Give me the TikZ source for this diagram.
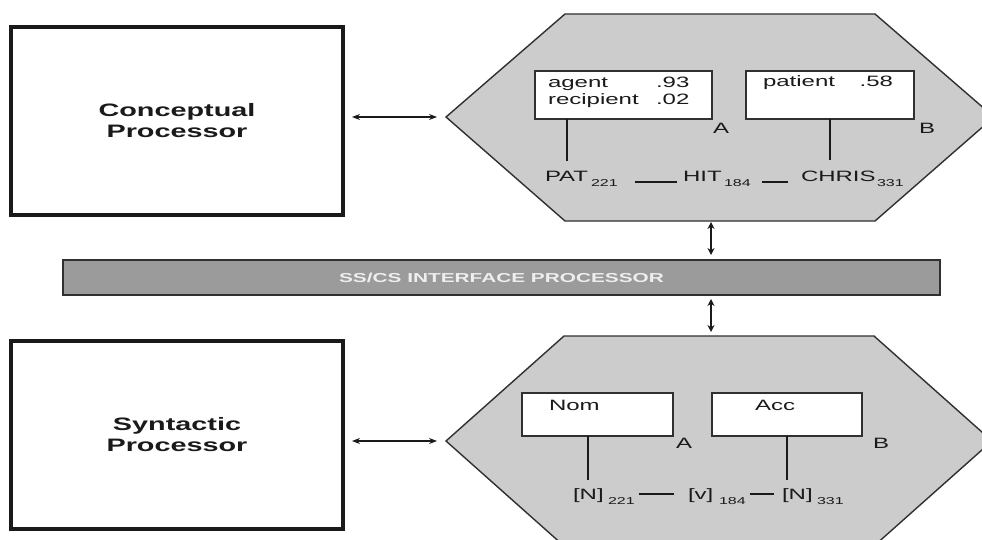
\documentclass[tikz,border=0pt]{standalone}
\usepackage{fontspec}
\usetikzlibrary{arrows.meta}
\newfontfamily\hv[FakeStretch=1.6]{Liberation Sans}
\definecolor{hexfill}{HTML}{CCCCCC}
\definecolor{barfill}{HTML}{9B9B9B}
\definecolor{ink}{HTML}{1A1A1A}
\definecolor{edge}{HTML}{303030}
\definecolor{bartext}{HTML}{EEEEEE}
\begin{document}
\begin{tikzpicture}[x=1pt,y=-1pt,
  every node/.style={inner sep=0pt, outer sep=0pt, text=ink, font=\hv\fontsize{15}{17}\selectfont},
  bigbox/.style={draw=ink, line width=3.5pt, fill=white, minimum width=332pt, minimum height=188pt,
    align=center, font=\hv\bfseries\fontsize{18}{21}\selectfont},
  hexshape/.style={fill=hexfill, draw=edge, line width=1.4pt},
  smallbox/.style={draw=edge, fill=white, line width=1.6pt},
  subtext/.style={anchor=base west, font=\hv\fontsize{10}{12}\selectfont},
  word/.style={anchor=base west},
  stem/.style={draw=ink, line width=1.9pt},
  dashline/.style={draw=ink, line width=1.4pt},
  harr/.style={draw=ink, line width=1.1pt, {Stealth[length=8pt,width=6pt]}-{Stealth[length=8pt,width=6pt]}},
  varr/.style={draw=ink, line width=1.8pt, {Stealth[length=7pt,width=7pt]}-{Stealth[length=7pt,width=7pt]}},
  barbox/.style={fill=barfill, draw=edge, line width=1.6pt, minimum width=877pt, minimum height=35pt,
    text=bartext, font=\hv\bfseries\fontsize{13}{15}\selectfont}
]
\useasboundingbox (0,0) rectangle (982,540);
\clip (0,0) rectangle (982,540);
\fill[white] (0,0) rectangle (982,540);

% left processors
\node[bigbox] (CP) at (177,121) {Conceptual\\Processor};
\node[bigbox] (SP) at (177,435) {Syntactic\\Processor};

% top hexagon
\draw[hexshape] (565,14) -- (875,14) -- (994,117) -- (875,221) -- (565,221) -- (446,117) coordinate (hexTL) -- cycle;
\coordinate (hexTbot) at (711,221);

% bottom hexagon
\draw[hexshape] (564,336) -- (874,336) -- (992,441) -- (874,546) -- (564,546) -- (446,441) coordinate (hexBL) -- cycle;
\coordinate (hexBtop) at (711,336);

% interface bar
\node[barbox] (bar) at (501.5,277.5) {SS/CS INTERFACE PROCESSOR};

% top boxes
\node[smallbox, minimum width=177pt, minimum height=48pt] (bA) at (623.5,95) {};
\node[smallbox, minimum width=168pt, minimum height=48pt] (bB) at (830,95) {};
\node[word] (ag) at (548,88) {agent};
\node[word] (ag93) at (656,88) {.93};
\node[word] (rc) at (548,105) {recipient};
\node[word] (rc02) at (656,105) {.02};
\node[word] (pt) at (763,87) {patient};
\node[anchor=base east] (pt58) at (893,87) {.58};
\node (lA) at (721,128) {A};
\node (lB) at (927,128) {B};

% top row
\node[word] (PAT) at (545,182) {PAT};
\node[subtext] (PATs) at (591,186) {221};
\node[word] (HIT) at (683,182) {HIT};
\node[subtext] (HITs) at (724,186) {184};
\node[word] (CHRIS) at (801,182) {CHRIS};
\node[subtext] (CHRISs) at (877,186) {331};

\draw[stem] ([yshift=11pt]PAT.north) -- (bA.south -| PAT.north);
\draw[stem] (bB.south) -- ([yshift=12pt]bB.south |- CHRIS.north);
\draw[dashline, shorten <=17pt, shorten >=6pt] ([yshift=4pt]PATs.base east) -- (HIT.base west);
\draw[dashline, shorten <=11pt, shorten >=13pt] ([yshift=4pt]HITs.base east) -- (CHRIS.base west);

% bottom boxes
\node[smallbox, minimum width=151pt, minimum height=43pt] (bN) at (597.5,414.5) {};
\node[smallbox, minimum width=150pt, minimum height=43pt] (bC) at (787,414.5) {};
\node[word] (nom) at (549,410) {Nom};
\node[word] (acc) at (755,410) {Acc};
\node (lA2) at (684,443) {A};
\node (lB2) at (881,443) {B};

% bottom row
\node[word] (N1) at (573,499) {[N]};
\node[subtext] (N1s) at (608,504) {221};
\node[word] (V) at (688,499) {[v]};
\node[subtext] (Vs) at (719,504) {184};
\node[word] (N2) at (782,499) {[N]};
\node[subtext] (N2s) at (817,504) {331};

\draw[stem] (bN.south -| N1.north) -- ([yshift=8pt]N1.north);
\draw[stem] (bC.south) -- ([yshift=8pt]bC.south |- N2.north);
\draw[dashline, shorten <=4pt, shorten >=14pt] ([yshift=10pt]N1s.base east) -- ([yshift=5pt]V.base west);
\draw[dashline, shorten <=4pt, shorten >=8pt] ([yshift=10pt]Vs.base east) -- ([yshift=5pt]N2.base west);

% arrows
\draw[harr, shorten <=9pt, shorten >=9pt] (CP.east |- hexTL) -- (hexTL);
\draw[harr, shorten <=9pt, shorten >=9pt] (SP.east |- hexBL) -- (hexBL);
\draw[varr, shorten <=1pt, shorten >=5pt] (hexTbot) -- (bar.north -| hexTbot);
\draw[varr, shorten <=4pt, shorten >=4pt] (bar.south -| hexBtop) -- (hexBtop);
\end{tikzpicture}
\end{document}
